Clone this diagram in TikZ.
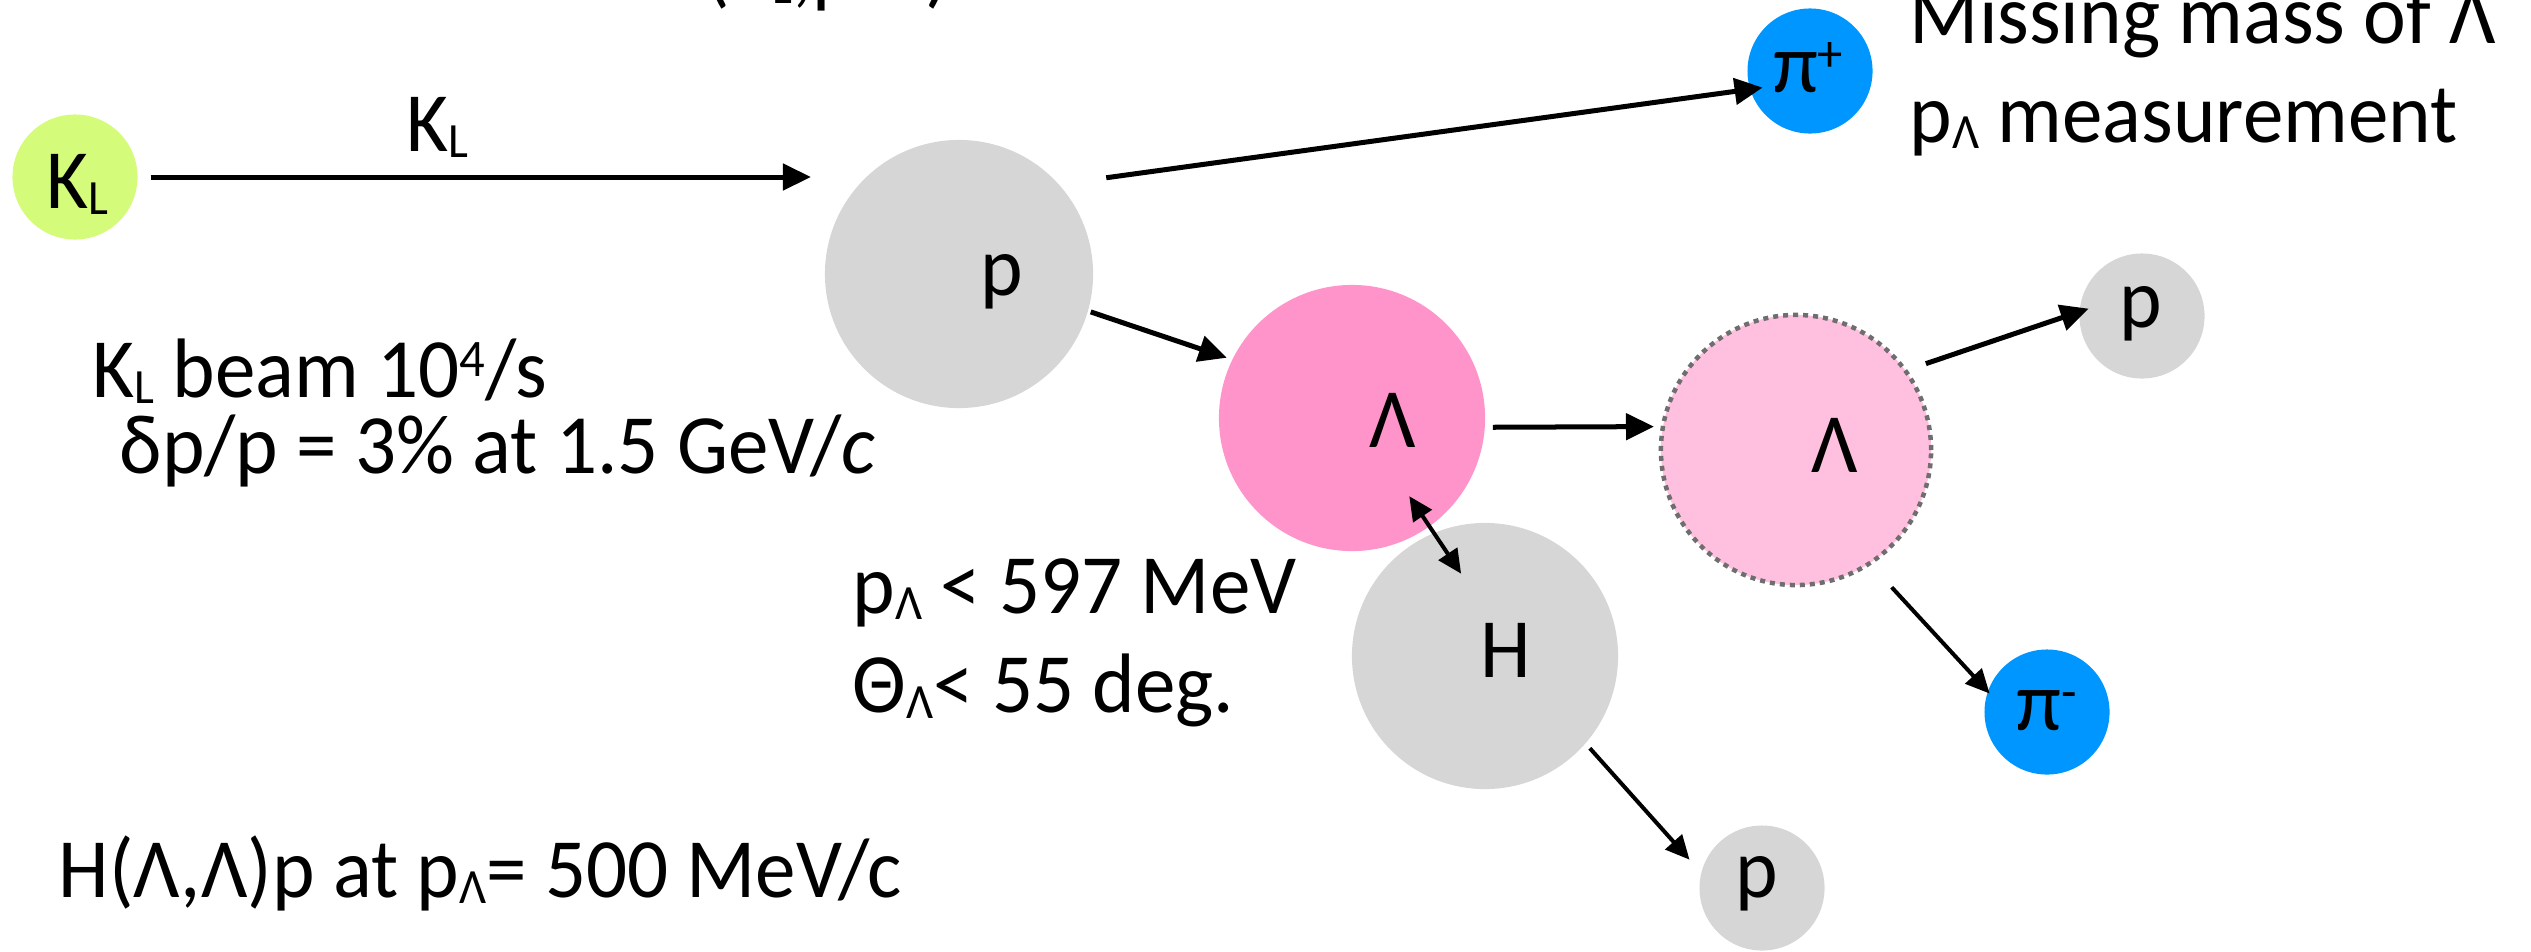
\documentclass[tikz,border=0pt]{standalone}
\usepackage{fontspec}
\setmainfont[FakeStretch=0.96]{Carlito}
\usetikzlibrary{arrows.meta}

\definecolor{klgreen}{HTML}{D5FB7B}
\definecolor{pionblue}{HTML}{0096FF}
\definecolor{nucgray}{HTML}{D6D6D6}
\definecolor{lampink}{HTML}{FF94CA}
\definecolor{lamlight}{HTML}{FFC0E0}
\definecolor{dotgray}{HTML}{6E6E6E}

% small raised / lowered indices set in text
\newcommand\lowidx[1]{\raisebox{-0.08em}{\fontsize{14pt}{14pt}\selectfont #1}}
\newcommand\upidx[1]{\raisebox{0.24em}{\fontsize{15pt}{15pt}\selectfont #1}}

\begin{document}
\begin{tikzpicture}[x=0.01cm, y=-0.01cm,
  font=\fontsize{24pt}{29pt}\selectfont,
  ball/.style={circle, draw=none, inner sep=0pt, outer sep=0pt},
  bigball/.style={ball, minimum size=2.68cm},
  smallball/.style={ball, minimum size=1.25cm},
  arr/.style={line width=0.05cm, -{Triangle[length=0.28cm,width=0.26cm]}},
  thinarr/.style={line width=0.04cm, -{Triangle[length=0.24cm,width=0.22cm]}},
  twoway/.style={line width=0.04cm, {Triangle[length=0.24cm,width=0.22cm]}-{Triangle[length=0.24cm,width=0.22cm]}},
  txt/.style={anchor=base west, inner sep=0pt},
  lbl/.style={anchor=base, inner sep=0pt}]
\useasboundingbox (0,0) rectangle (2531,951);

% particles
\node[smallball, fill=klgreen] (KL) at (75,177) {};
\node[bigball, fill=nucgray] (pbig) at (959,274) {};
\node[smallball, fill=pionblue] (pip) at (1810,71) {};
\node[bigball, fill=lampink, minimum size=2.66cm] (Lam) at (1352,418) {};
\node[bigball, fill=lamlight, minimum size=2.70cm, draw=dotgray, line width=0.045cm,
      dash pattern=on 0.05cm off 0.05cm] (Lamd) at (1796,450) {};
\node[smallball, fill=nucgray] (ptop) at (2142,316) {};
\node[smallball, fill=pionblue] (pim) at (2047,712) {};
\node[bigball, fill=nucgray, minimum size=2.66cm] (H) at (1485,656) {};
\node[smallball, fill=nucgray] (pbot) at (1762,888) {};

% labels on the particles
\node[lbl] (KLt) at (77,208) {K\lowidx{L}};
\node[lbl] (pbigt) at (1002,295) {p};
\node[lbl] (pipt) at (1808,92) {π\upidx{+}};
\node[lbl] (Lamt) at (1393,447) {Λ};
\node[lbl] (Lamdt) at (1835,472) {Λ};
\node[lbl] (ptopt) at (2141,327) {p};
\node[lbl] (pimt) at (2047,730) {π\upidx{-}};
\node[lbl] (Ht) at (1506,677) {H};
\node[lbl] (pbott) at (1757,897) {p};

% tracks
\draw[arr, shorten <=0.13cm, shorten >=0.14cm] (KL.east) -- (KL.east -| pbig.west);
\draw[arr, shorten <=0.48cm, shorten >=-0.125cm] (pbig.42) -- (pip.197);
\draw[arr, shorten <=0.03cm, shorten >=0.06cm] (pbig.-16) -- (Lam.154);
\draw[arr, shorten <=0.08cm, shorten >=0.09cm] (Lam.-4) -- (Lamd.170);
\draw[arr, shorten <=0.217cm, shorten >=-0.094cm] (Lamd.36) -- (ptop.176);
\draw[thinarr, shorten <=0.326cm, shorten >=-0.026cm] (Lamd.-57) -- (pim.161);
\draw[twoway, shorten <=2.297cm, shorten >=2.121cm] (Lam.122.5) -- (H.-45.85);
\draw[thinarr, shorten <=0.066cm, shorten >=0.177cm] (H.-41) -- (pbot.166);

% beam label
\node[lbl] (beamlab) at (437,151) {K\lowidx{L}};

% annotations
\node[txt] (toptext) at (705,-3) {(K\lowidx{L},pπ\upidx{+})};
\node[txt] (mm) at (1909,43) {Missing mass of Λ};
\node[txt] (pmeas) at (1909,142) {p\lowidx{Λ} measurement};
\node[txt] (beam) at (92,397) {K\lowidx{L} beam 10\upidx{4}/s};
\node[txt] (spread) at (105,473) {\,δp/p = 3\% at 1.5 GeV/\emph{c}};
\node[txt] (pcut) at (852,613) {p\lowidx{Λ} < 597 MeV};
\node[txt] (thcut) at (852,712) {Θ\lowidx{Λ}< 55 deg.};
\node[txt] (reac) at (58,897) {H(Λ,Λ)p at p\lowidx{Λ}= 500 MeV/c};
\end{tikzpicture}
\end{document}
